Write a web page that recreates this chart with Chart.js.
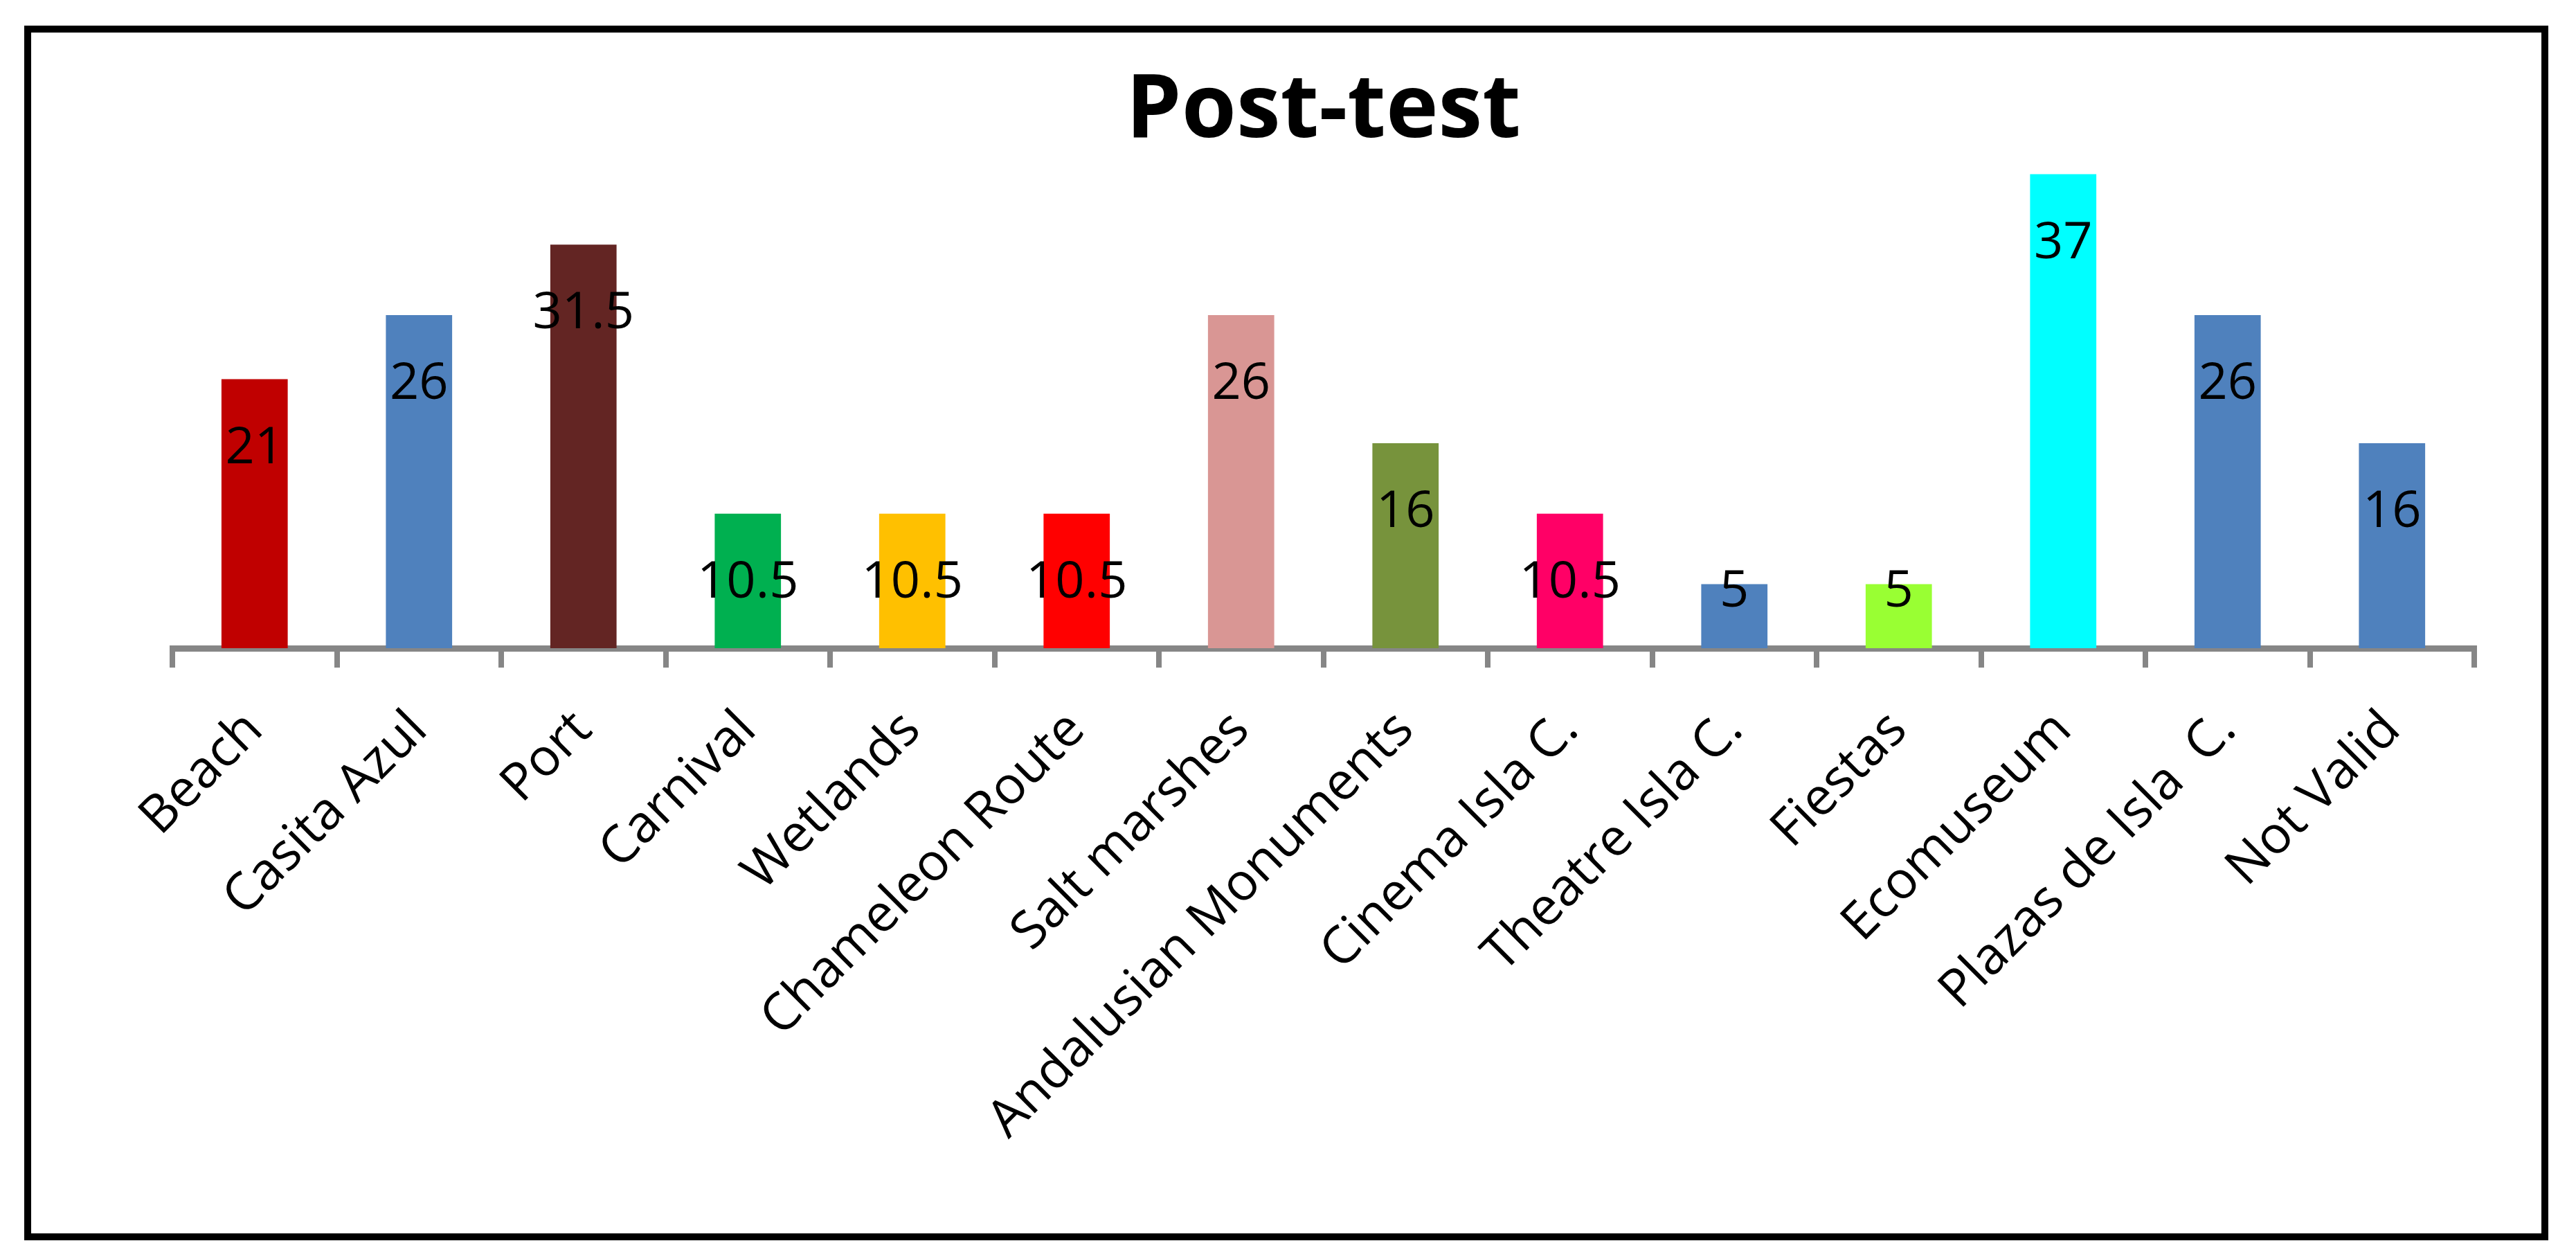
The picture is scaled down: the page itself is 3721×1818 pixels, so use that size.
<!DOCTYPE html>
<html>
<head>
<meta charset="utf-8">
<title>Post-test</title>
<script src="https://cdn.jsdelivr.net/npm/chart.js@4.4.1/dist/chart.umd.min.js"></script>
<style>
  html, body { margin: 0; padding: 0; background: #ffffff; }
  #wrap { position: relative; width: 3721px; height: 1818px; }
  #frame {
    position: absolute; left: 35px; top: 37px; width: 3646px; height: 1754px;
    border: 10px solid #000000; box-sizing: border-box; pointer-events: none;
  }
  #myChart { position: absolute; left: 0; top: 0; }
</style>
</head>
<body>
<div id="wrap">
  <canvas id="myChart" width="3721" height="1818"></canvas>
  <div id="frame"></div>
</div>
<script>
// datos de la gráfica
const categories = ['Beach', 'Casita Azul', 'Port', 'Carnival', 'Wetlands', 'Chameleon Route',
  'Salt marshes', 'Andalusian Monuments', 'Cinema Isla C.', 'Theatre Isla C.', 'Fiestas',
  'Ecomuseum', 'Plazas de Isla  C.', 'Not Valid'];
const values = [21, 26, 31.5, 10.5, 10.5, 10.5, 26, 16, 10.5, 5, 5, 37, 26, 16];
const barColors = ['#C00000', '#4F81BD', '#632523', '#00B050', '#FFC000', '#FF0000',
  '#D99694', '#77933C', '#FF0066', '#4F81BD', '#99FF33', '#00FFFF', '#4F81BD', '#4F81BD'];

// etiquetas de valor dentro de la barra (extremo interior)
const valueLabels = {
  id: 'valueLabels',
  afterDatasetsDraw(chart) {
    const ctx = chart.ctx;
    const meta = chart.getDatasetMeta(0);
    ctx.save();
    ctx.font = '74px "Open Sans"';
    ctx.fillStyle = '#000000';
    ctx.textAlign = 'center';
    ctx.textBaseline = 'middle';
    meta.data.forEach(function(bar, i) {
      const h = bar.base - bar.y;
      const y = h > 150 ? bar.y + 100 : bar.y + 11;
      ctx.fillText(String(values[i]), bar.x, y);
    });
    ctx.restore();
  }
};

document.addEventListener("DOMContentLoaded", function() {
  const ctx = document.getElementById('myChart').getContext('2d');

  const myChart = new Chart(ctx, {
    type: 'bar',
    data: {
      labels: categories,
      datasets: [{
        label: 'Post-test',
        data: values,
        backgroundColor: barColors,
        borderWidth: 0,
        barPercentage: 0.403,
        categoryPercentage: 1
      }]
    },
    options: {
      responsive: false,
      animation: false,
      layout: {
        padding: { left: 249, right: 147, top: 0, bottom: 0 }
      },
      plugins: {
        legend: { display: false },
        tooltip: { enabled: false },
        title: {
          display: true,
          text: 'Post-test',
          color: '#000000',
          font: { family: '"Open Sans"', size: 128, weight: 'bold', lineHeight: 1 },
          padding: { top: 98, bottom: 7 }
        }
      },
      scales: {
        x: {
          z: 1,
          border: { display: true, color: '#868686', width: 9 },
          grid: {
            display: true,
            drawOnChartArea: false,
            drawTicks: true,
            tickLength: 28,
            lineWidth: 8,
            color: '#868686',
            offset: true
          },
          ticks: {
            color: '#000000',
            font: { family: '"Open Sans"', size: 75 },
            minRotation: 45,
            maxRotation: 45,
            autoSkip: false,
            padding: 46
          },
          afterFit: function(scale) {
            scale.height = 882;
          }
        },
        y: {
          display: false,
          min: 0,
          max: 38
        }
      }
    },
    plugins: [valueLabels]
  });
});
</script>
</body>
</html>
